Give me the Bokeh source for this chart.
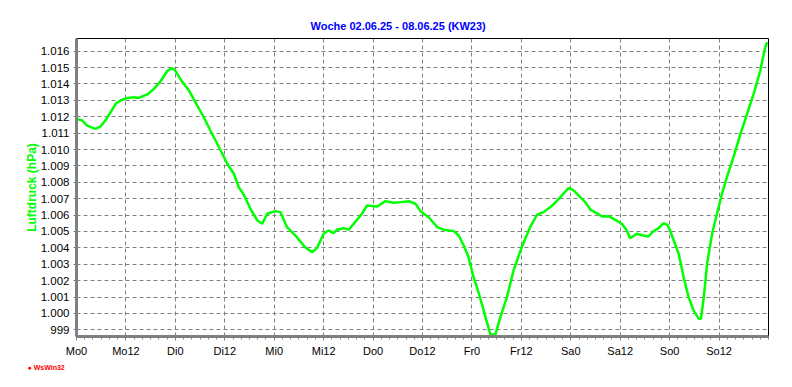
from bokeh.plotting import figure
from bokeh.models import FixedTicker, Range1d, Title
from bokeh.embed import file_html
from bokeh.resources import INLINE

# Data: hours since Monday 00:00, pressure in hPa
hours = [0.0, 1.4, 2.6, 4.6, 5.8, 7.0, 8.3, 9.5, 10.7, 12.3, 13.9, 15.1, 17.2, 18.8,
         20.4, 22.0, 23.2, 24.0, 25.2, 27.3, 29.3, 30.9, 32.5, 34.6, 36.6, 38.2,
         39.4, 40.6, 42.2, 43.9, 45.1, 46.3, 48.3, 49.5, 51.1, 53.5, 55.5, 57.2,
         58.4, 60.0, 61.2, 62.4, 63.2, 64.9, 66.1, 67.3, 69.3, 70.5, 73.0, 75.0,
         77.0, 78.7, 80.7, 82.3, 83.5, 85.5, 87.6, 89.2, 91.6, 92.8, 94.0, 95.2,
         96.4, 97.7, 99.3, 100.5, 101.7, 102.9, 104.5, 106.1, 108.1, 110.2, 111.8,
         113.4, 115.5, 117.1, 118.3, 119.5, 120.7, 122.3, 123.5, 124.8, 126.4,
         127.6, 129.2, 130.8, 132.4, 133.6, 134.4, 136.0, 137.6, 138.8, 140.0,
         141.3, 142.5, 143.5, 144.1, 145.0, 146.2, 147.4, 148.6, 149.8, 151.1,
         151.6, 152.3, 153.1, 154.3, 155.5, 156.7, 157.9, 159.5, 161.2, 162.8,
         164.4, 166.0, 167.2, 167.7]
pressure = [1011.87, 1011.77, 1011.46, 1011.26, 1011.40, 1011.77, 1012.28, 1012.79,
            1012.99, 1013.15, 1013.19, 1013.15, 1013.36, 1013.70, 1014.17, 1014.78,
            1014.96, 1014.82, 1014.31, 1013.60, 1012.69, 1011.97, 1011.16, 1010.14,
            1009.13, 1008.52, 1007.70, 1007.25, 1006.40, 1005.67, 1005.47, 1006.08,
            1006.24, 1006.18, 1005.26, 1004.65, 1004.04, 1003.73, 1004.00, 1004.86,
            1005.06, 1004.90, 1005.10, 1005.20, 1005.10, 1005.47, 1006.08, 1006.58,
            1006.52, 1006.85, 1006.75, 1006.79, 1006.85, 1006.69, 1006.24, 1005.87,
            1005.26, 1005.10, 1005.02, 1004.75, 1004.14, 1003.43, 1002.21, 1001.20,
            999.77, 998.70, 998.70, 999.77, 1000.99, 1002.62, 1004.04, 1005.30,
            1006.02, 1006.18, 1006.58, 1006.99, 1007.33, 1007.66, 1007.50, 1007.09,
            1006.79, 1006.32, 1006.11, 1005.91, 1005.93, 1005.71, 1005.47, 1005.06,
            1004.59, 1004.86, 1004.75, 1004.69, 1005.00, 1005.20, 1005.50, 1005.40,
            1005.06, 1004.45, 1003.64, 1002.21, 1000.99, 1000.18, 999.67, 999.67,
            1000.99, 1003.03, 1004.86, 1006.08, 1007.30, 1008.31, 1009.53, 1010.96,
            1012.18, 1013.40, 1014.82, 1016.24, 1016.55]

x_ticks = [0, 12, 24, 36, 48, 60, 72, 84, 96, 108, 120, 132, 144, 156]
x_tick_labels = ["Mo0", "Mo12", "Di0", "Di12", "Mi0", "Mi12", "Do0", "Do12",
                 "Fr0", "Fr12", "Sa0", "Sa12", "So0", "So12"]
y_ticks = list(range(999, 1017))
y_tick_labels = ["999"] + ["1.%03d" % (v - 1000) for v in range(1000, 1017)]

title_text = "Woche 02.06.25 - 08.06.25 (KW23)"
y_label = "Luftdruck (hPa)"
credit = "\u25cf WsWin32"

GRID = "#808080"

p = figure(width=792, height=387, output_backend="svg", toolbar_location=None,
           x_range=Range1d(0, 168), y_range=Range1d(998.59, 1016.775),
           min_border_left=76, min_border_right=24, min_border_top=38,
           min_border_bottom=51)
p.title = Title(text=title_text, align="left", offset=234, standoff=14,
                text_font="Liberation Sans", text_font_size="11px",
                text_font_style="bold", text_color="#0000ff")
p.background_fill_color = "white"
p.border_fill_color = "white"
p.outline_line_color = "black"
p.outline_line_width = 1

p.line(hours, pressure, line_color="#00ff00", line_width=2.5)

# X axis
xa = p.xaxis[0]
xa.ticker = FixedTicker(ticks=x_ticks, minor_ticks=list(range(0, 169, 2)))
xa.major_label_overrides = {t: l for t, l in zip(x_ticks, x_tick_labels)}
xa.axis_line_color = GRID
xa.axis_line_width = 3
xa.major_tick_line_color = GRID
xa.minor_tick_line_color = GRID
xa.major_tick_in = 0
xa.major_tick_out = 4
xa.minor_tick_in = 0
xa.minor_tick_out = 3
xa.major_label_standoff = 4
xa.major_label_text_font = "Liberation Sans"
xa.major_label_text_font_size = "11px"
xa.major_label_text_color = "black"

# Y axis
ya = p.yaxis[0]
ya.ticker = FixedTicker(ticks=y_ticks, minor_ticks=[])
ya.major_label_overrides = {t: l for t, l in zip(y_ticks, y_tick_labels)}
ya.axis_line_color = GRID
ya.axis_line_width = 3
ya.major_tick_line_color = GRID
ya.major_tick_in = 0
ya.major_tick_out = 3
ya.major_label_standoff = 4
ya.major_label_text_font = "Liberation Sans"
ya.major_label_text_font_size = "11.5px"
ya.major_label_text_color = "black"
ya.axis_label = y_label
ya.axis_label_text_font = "Liberation Sans"
ya.axis_label_text_font_size = "12px"
ya.axis_label_text_font_style = "bold"
ya.axis_label_text_color = "#00ff00"
ya.axis_label_standoff = -1

# Grids
p.xgrid.ticker = FixedTicker(ticks=x_ticks + [168])
p.ygrid.ticker = FixedTicker(ticks=y_ticks)
for g in (p.xgrid[0], p.ygrid[0]):
    g.grid_line_color = GRID
    g.grid_line_dash = "4 3"
    g.grid_line_width = 1

# Credit below the x axis
p.add_layout(Title(text=credit, align="left", offset=-49, standoff=8,
                   vertical_align="top", text_font="Liberation Sans",
                   text_font_size="7px", text_font_style="bold",
                   text_color="#ff0000"), "below")

open("out.html", "w").write(file_html(p, INLINE))
